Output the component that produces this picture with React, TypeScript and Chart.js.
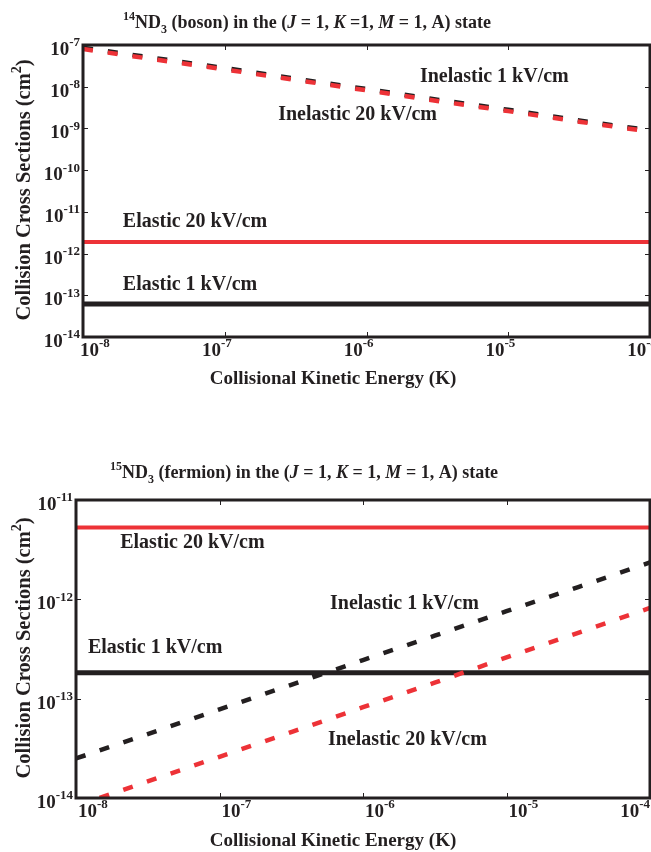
import React, { useEffect, useRef } from "react";
import { Chart, registerables } from "chart.js";
Chart.register(...registerables);

// ---------- data ----------
const energies = [1e-8, 3.16e-8, 1e-7, 3.16e-7, 1e-6, 3.16e-6, 1e-5, 3.16e-5, 1e-4];

// 14ND3 (boson)
const bosonInelastic1 = [8.6e-8, 4.9e-8, 2.8e-8, 1.55e-8, 8.8e-9, 4.9e-9, 2.8e-9, 1.55e-9, 9.0e-10];
const bosonInelastic20 = [8.0e-8, 4.55e-8, 2.6e-8, 1.45e-8, 8.2e-9, 4.55e-9, 2.6e-9, 1.45e-9, 8.4e-10];
const bosonElastic20 = [1.9e-12, 1.9e-12, 1.9e-12, 1.9e-12, 1.9e-12, 1.9e-12, 1.9e-12, 1.9e-12, 1.9e-12];
const bosonElastic1 = [6.2e-14, 6.2e-14, 6.2e-14, 6.2e-14, 6.2e-14, 6.2e-14, 6.2e-14, 6.2e-14, 6.2e-14];

// 15ND3 (fermion)
const fermionInelastic1 = [2.5e-14, 4.4e-14, 7.8e-14, 1.38e-13, 2.45e-13, 4.3e-13, 7.6e-13, 1.33e-12, 2.35e-12];
const fermionInelastic20 = [8.3e-15, 1.47e-14, 2.6e-14, 4.6e-14, 8.2e-14, 1.45e-13, 2.6e-13, 4.6e-13, 8.2e-13];
const fermionElastic20 = [5.3e-12, 5.3e-12, 5.3e-12, 5.3e-12, 5.3e-12, 5.3e-12, 5.3e-12, 5.3e-12, 5.3e-12];
const fermionElastic1 = [1.82e-13, 1.82e-13, 1.82e-13, 1.82e-13, 1.82e-13, 1.82e-13, 1.82e-13, 1.82e-13, 1.82e-13];

// tick exponents
const xTickExps = [-8, -7, -6, -5, -4];
const bosonYTickExps = [-7, -8, -9, -10, -11, -12, -13, -14];
const fermionYTickExps = [-11, -12, -13, -14];

// label texts and anchors (data coordinates)
const bosonLabels = [
  { text: "Inelastic 1 kV/cm", x: 2.38e-6, y: 1.71e-8 },
  { text: "Inelastic 20 kV/cm", x: 2.38e-7, y: 2.1e-9 },
  { text: "Elastic 20 kV/cm", x: 1.91e-8, y: 5.7e-12 },
  { text: "Elastic 1 kV/cm", x: 1.91e-8, y: 1.76e-13 },
];
const fermionLabels = [
  { text: "Elastic 20 kV/cm", x: 2.03e-8, y: 3.69e-12 },
  { text: "Elastic 1 kV/cm", x: 1.21e-8, y: 3.24e-13 },
  { text: "Inelastic 1 kV/cm", x: 5.89e-7, y: 8.97e-13 },
  { text: "Inelastic 20 kV/cm", x: 5.7e-7, y: 3.84e-14 },
];

// ---------- styles ----------
const FONT = '"Liberation Serif", "Times New Roman", serif';
const INK = "#231f20";
const RED = "#ed3237";

type Part = { t: string; it?: boolean; sup?: boolean; sub?: boolean };

function richWidth(ctx: CanvasRenderingContext2D, parts: Part[], size: number) {
  const small = Math.round(size * 0.68);
  let w = 0;
  for (const p of parts) {
    ctx.font = `${p.it ? "italic " : ""}bold ${p.sup || p.sub ? small : size}px ${FONT}`;
    w += ctx.measureText(p.t).width;
  }
  return w;
}

function drawRich(
  ctx: CanvasRenderingContext2D,
  parts: Part[],
  x: number,
  y: number,
  size: number,
  align: "center" | "left" | "right"
) {
  const small = Math.round(size * 0.68);
  const fontOf = (p: Part) =>
    `${p.it ? "italic " : ""}bold ${p.sup || p.sub ? small : size}px ${FONT}`;
  const w = richWidth(ctx, parts, size);
  let cx = align === "center" ? x - w / 2 : align === "right" ? x - w : x;
  ctx.textAlign = "left";
  ctx.textBaseline = "alphabetic";
  for (const p of parts) {
    ctx.font = fontOf(p);
    const dy = p.sup ? -size * 0.45 : p.sub ? size * 0.25 : 0;
    ctx.fillText(p.t, cx, y + dy);
    cx += ctx.measureText(p.t).width;
  }
  return w;
}

type Deco = {
  title: Part[];
  titleX: number;
  titleY: number;
  xTitleX: number;
  xTitleY: number;
  yTitleX: number;
  yTitleY: number;
  yTicks: number[];
  xLabelMode: "top" | "bottom";
  labels: { text: string; x: number; y: number }[];
};

const decoPlugin = {
  id: "deco",
  afterDraw(chart: any) {
    const deco: Deco = chart.options.plugins.deco;
    const ctx: CanvasRenderingContext2D = chart.ctx;
    const { left, right, top, bottom } = chart.chartArea;
    const xs = chart.scales.x;
    const ys = chart.scales.y;
    ctx.save();
    ctx.fillStyle = INK;
    ctx.strokeStyle = INK;

    // tick marks (inward)
    ctx.lineWidth = 1;
    for (const e of xTickExps) {
      const px = Math.round(xs.getPixelForValue(Math.pow(10, e))) + 0.5;
      ctx.beginPath();
      ctx.moveTo(px, bottom);
      ctx.lineTo(px, bottom - 5);
      ctx.moveTo(px, top);
      ctx.lineTo(px, top + 5);
      ctx.stroke();
    }
    for (const e of deco.yTicks) {
      const py = Math.round(ys.getPixelForValue(Math.pow(10, e))) + 0.5;
      ctx.beginPath();
      ctx.moveTo(left, py);
      ctx.lineTo(left + 5, py);
      ctx.moveTo(right, py);
      ctx.lineTo(right - 5, py);
      ctx.stroke();
    }

    // frame
    ctx.lineWidth = 3;
    ctx.strokeRect(left, top, right - left, bottom - top);

    // y tick labels
    for (const e of deco.yTicks) {
      const py = ys.getPixelForValue(Math.pow(10, e));
      drawRich(ctx, [{ t: "10" }, { t: String(e), sup: true }], left - 3, py + 10, 19, "right");
    }
    // x tick labels
    xTickExps.forEach((e, i) => {
      const px = xs.getPixelForValue(Math.pow(10, e));
      const parts: Part[] = [{ t: "10" }, { t: String(e), sup: true }];
      const last = i === xTickExps.length - 1;
      if (deco.xLabelMode === "top") {
        if (i === 0) drawRich(ctx, parts, px - 3, bottom + 19, 19, "left");
        else drawRich(ctx, parts, px + 7, bottom + 19, 19, "right");
      } else {
        if (last) drawRich(ctx, parts, px, bottom + 19, 19, "right");
        else drawRich(ctx, parts, px + 2, bottom + 19, 19, "left");
      }
    });

    // in-plot labels
    for (const l of deco.labels) {
      const px = xs.getPixelForValue(l.x);
      const py = ys.getPixelForValue(l.y);
      ctx.font = `bold 20px ${FONT}`;
      ctx.textAlign = "left";
      ctx.textBaseline = "middle";
      ctx.fillText(l.text, px, py);
    }

    // title
    drawRich(ctx, deco.title, deco.titleX, deco.titleY, 18, "center");
    // x axis title
    drawRich(ctx, [{ t: "Collisional Kinetic Energy (K)" }], deco.xTitleX, deco.xTitleY, 19, "center");
    // y axis title
    ctx.save();
    ctx.translate(deco.yTitleX, deco.yTitleY);
    ctx.rotate(-Math.PI / 2);
    drawRich(ctx, [{ t: "Collision Cross Sections (cm" }, { t: "2", sup: true }, { t: ")" }], 0, 0, 20.5, "center");
    ctx.restore();

    ctx.restore();
  },
};

function lineDs(data: number[], color: string, width: number, dashed: boolean) {
  return {
    data: energies.map((e, i) => ({ x: e, y: data[i] })),
    borderColor: color,
    borderWidth: width,
    borderDash: dashed ? [10, 15] : [],
    borderCapStyle: "butt" as const,
    pointRadius: 0,
    tension: 0,
    fill: false,
  };
}

function makeConfig(
  datasets: any[],
  ymin: number,
  ymax: number,
  padding: any,
  deco: Deco
) {
  return {
    type: "line" as const,
    data: { datasets },
    options: {
      responsive: false,
      animation: false as const,
      layout: { padding },
      scales: {
        x: { type: "logarithmic" as const, min: 1e-8, max: 1e-4, display: false },
        y: { type: "logarithmic" as const, min: ymin, max: ymax, display: false },
      },
      plugins: {
        legend: { display: false },
        tooltip: { enabled: false },
        deco,
      },
    },
    plugins: [decoPlugin],
  };
}

function ChartCanvas({ config, height }: { config: () => any; height: number }) {
  const ref = useRef<HTMLCanvasElement>(null);
  useEffect(() => {
    if (!ref.current) return;
    const chart = new Chart(ref.current, config());
    return () => chart.destroy();
  }, []);
  return <canvas ref={ref} width={651} height={height} style={{ display: "block", width: 651, height }} />;
}

export default function App() {
  const bosonConfig = () =>
    makeConfig(
      [
        lineDs(bosonInelastic20, RED, 4.5, true),
        lineDs(bosonInelastic1, INK, 4.5, true),
        lineDs(bosonElastic20, RED, 4, false),
        lineDs(bosonElastic1, INK, 5, false),
      ],
      1e-14,
      1e-7,
      { left: 83, top: 45, right: 1, bottom: 89 },
      {
        title: [
          { t: "14", sup: true },
          { t: "ND" },
          { t: "3", sub: true },
          { t: " (boson) in the (" },
          { t: "J", it: true },
          { t: " = 1, " },
          { t: "K", it: true },
          { t: " =1, " },
          { t: "M", it: true },
          { t: " = 1, A) state" },
        ],
        titleX: 307,
        titleY: 28,
        xTitleX: 333,
        xTitleY: 384,
        yTitleX: 30,
        yTitleY: 190,
        yTicks: bosonYTickExps,
        xLabelMode: "top",
        labels: bosonLabels,
      }
    );
  const fermionConfig = () =>
    makeConfig(
      [
        lineDs(fermionInelastic20, RED, 4.5, true),
        lineDs(fermionInelastic1, INK, 4.5, true),
        lineDs(fermionElastic20, RED, 4, false),
        lineDs(fermionElastic1, INK, 5, false),
      ],
      1e-14,
      1e-11,
      { left: 76, top: 74, right: 1, bottom: 54 },
      {
        title: [
          { t: "15", sup: true },
          { t: "ND" },
          { t: "3", sub: true },
          { t: " (fermion) in the (" },
          { t: "J", it: true },
          { t: " = 1, " },
          { t: "K", it: true },
          { t: " = 1, " },
          { t: "M", it: true },
          { t: " = 1, A) state" },
        ],
        titleX: 304,
        titleY: 52,
        xTitleX: 333,
        xTitleY: 420,
        yTitleX: 30,
        yTitleY: 222,
        yTicks: fermionYTickExps,
        xLabelMode: "bottom",
        labels: fermionLabels,
      }
    );
  return (
    <div style={{ position: "absolute", left: 0, top: 0, width: 651, height: 852, background: "#fff" }}>
      <ChartCanvas config={bosonConfig} height={426} />
      <ChartCanvas config={fermionConfig} height={426} />
    </div>
  );
}
